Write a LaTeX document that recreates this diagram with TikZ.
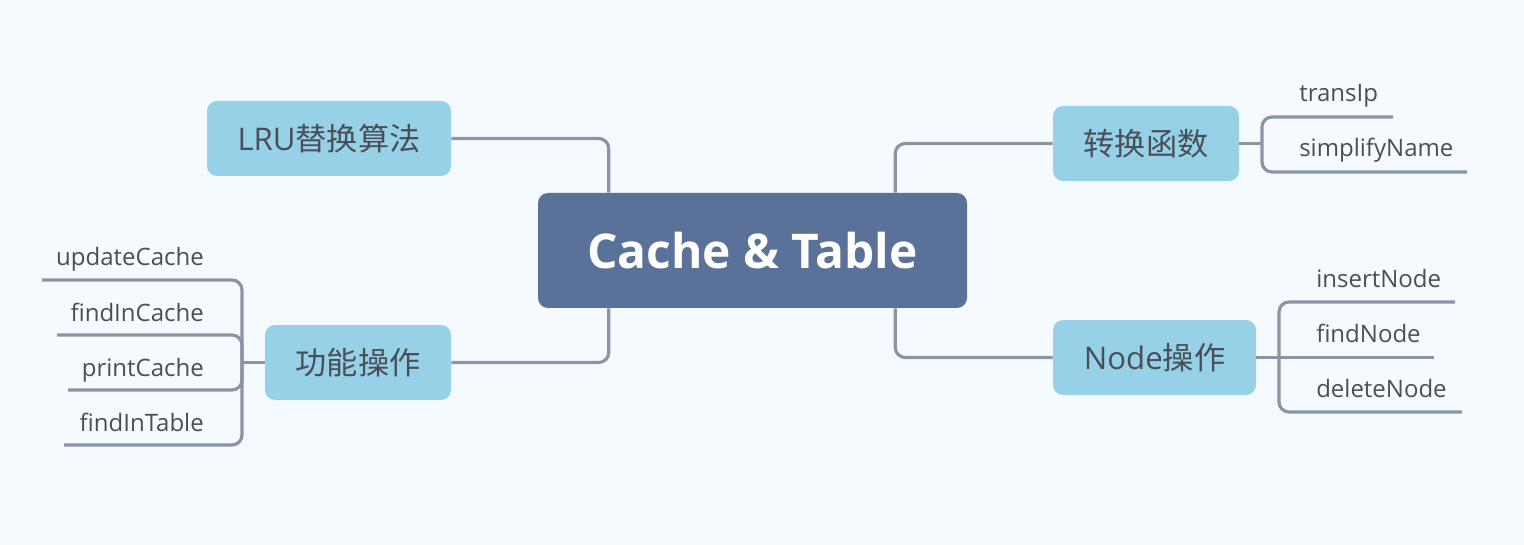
\documentclass[tikz,border=0pt]{standalone}
\usepackage{fontspec}
\setmainfont{Open Sans}
\newfontfamily\cjk{Noto Sans CJK SC}
\usetikzlibrary{calc}
\definecolor{bgc}{HTML}{F5FAFE}
\definecolor{centc}{HTML}{5A7299}
\definecolor{boxc}{HTML}{96D1E7}
\definecolor{linec}{HTML}{8A94A7}
\definecolor{txtc}{HTML}{4A4F57}
\tikzset{
  conn/.style={draw=linec,line width=2.4pt,rounded corners=7.5pt},
  stub/.style={draw=linec,line width=2.4pt},
  central/.style={fill=centc,rounded corners=7.5pt,minimum width=321.75pt,minimum height=86.25pt,
    text=white,font=\fontsize{35.9}{40}\selectfont\bfseries,inner sep=0pt},
  topic/.style={fill=boxc,rounded corners=7.5pt,minimum height=56.25pt,text=txtc,
    font=\fontsize{23.4}{27}\selectfont,inner sep=0pt},
  leafl/.style={anchor=base east,inner sep=0pt,text=txtc,font=\fontsize{18}{21}\selectfont},
  leafr/.style={anchor=base west,inner sep=0pt,text=txtc,font=\fontsize{18}{21}\selectfont},
}
\begin{document}
\begin{tikzpicture}[x=0.75pt,y=-0.75pt]
\fill[bgc] (0,0) rectangle (1524,545);
\useasboundingbox (0,0) rectangle (1524,545);
% main nodes
\node[central] (c) at (752.5,250.5) {Cache \& Table};
\node[topic,minimum width=183pt] (lru) at (329,138.5) {LRU{\cjk 替换算法}};
\node[topic,minimum width=139.5pt] (gn) at (358,362.5) {\cjk 功能操作};
\node[topic,minimum width=139.5pt] (zh) at (1146,143.5) {\cjk 转换函数};
\node[topic,minimum width=152.25pt] (nd) at (1154.5,357.5) {Node{\cjk 操作}};
% central connectors
\draw[conn] ($(c.north west)+(71,0)$) |- (lru.east);
\draw[conn] ($(c.south west)+(71,0)$) |- (gn.east);
\draw[conn] ($(c.north east)+(-72,0)$) |- (zh.west);
\draw[conn] ($(c.south east)+(-72,0)$) |- (nd.west);
% left leaves
\coordinate (gj) at (242,362.5);
\coordinate (e1) at (42,280);
\coordinate (e2) at (57,335);
\coordinate (e3) at (68,390);
\coordinate (e4) at (64,445);
\draw[stub] (gn.west) -- (gj);
\draw[conn] (gj) |- (e1);
\draw[conn] (gj) |- (e2);
\draw[conn] (gj) |- (e3);
\draw[conn] (gj) |- (e4);
\node[leafl] (l1) at (204,266) {updateCache};
\node[leafl] (l2) at (204,321) {findInCache};
\node[leafl] (l3) at (204,376) {printCache};
\node[leafl] (l4) at (204,431) {findInTable};
% right leaves of zh
\coordinate (zj) at (1262,143.5);
\coordinate (r1) at (1393,117);
\coordinate (r2) at (1467,172);
\draw[stub] (zh.east) -- (zj);
\draw[conn] (zj) |- (r1);
\draw[conn] (zj) |- (r2);
\node[leafr] (t1) at (1299,102) {transIp};
\node[leafr] (t2) at (1299,157) {simplifyName};
% right leaves of nd
\coordinate (nj) at (1279,357.5);
\coordinate (s1) at (1455,302);
\coordinate (s2) at (1434,357.5);
\coordinate (s3) at (1462,412);
\draw[stub] (nd.east) -- (nj);
\draw[conn] (nj) |- (s1);
\draw[conn] (nj) -- (s2);
\draw[conn] (nj) |- (s3);
\node[leafr] (n1) at (1316,287) {insertNode};
\node[leafr] (n2) at (1316,342) {findNode};
\node[leafr] (n3) at (1316,397) {deleteNode};
\end{tikzpicture}
\end{document}
